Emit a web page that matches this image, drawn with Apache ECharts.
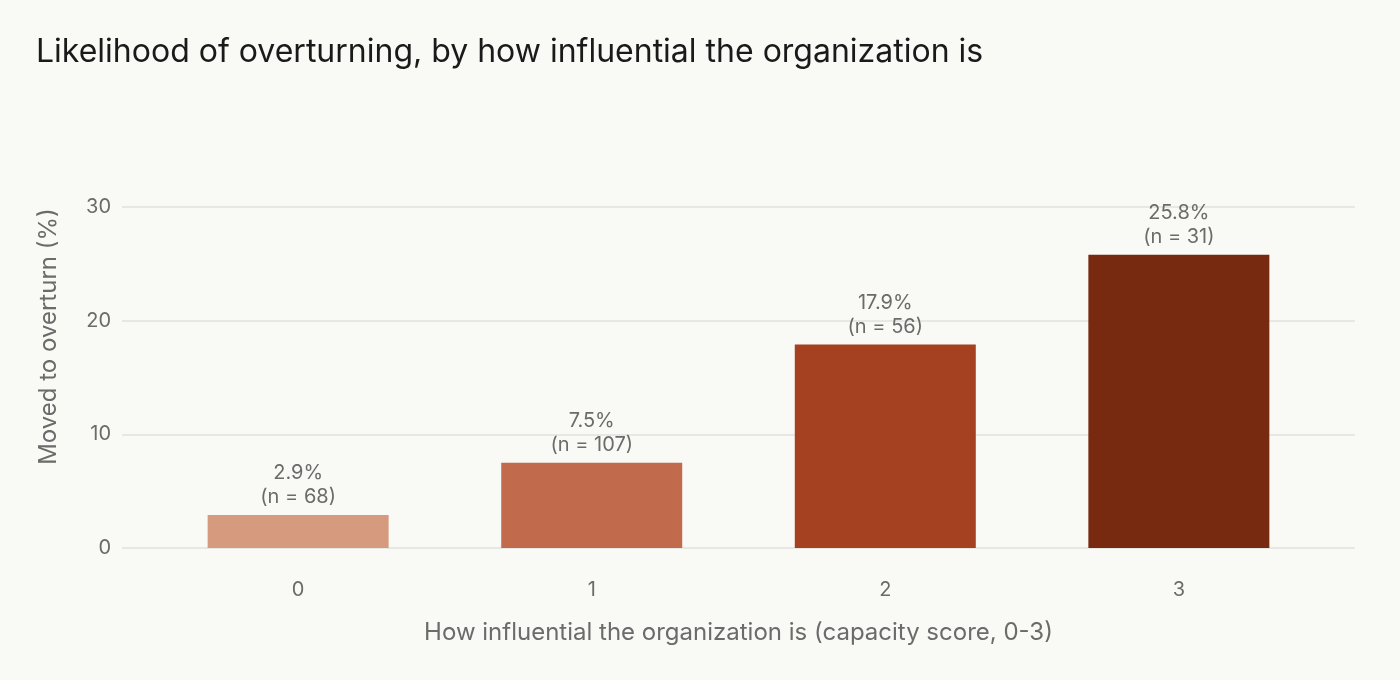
<!DOCTYPE html>
<html><head><meta charset="utf-8">
<script src="https://cdn.jsdelivr.net/npm/echarts@6/dist/echarts.min.js"></script>
<style>html,body{margin:0;padding:0;background:#f9f9f5;}#c{width:1400px;height:680px;}</style>
</head><body><div id="c"></div>
<script>
const categories = ['0', '1', '2', '3'];
const values = [2.9, 7.5, 17.9, 25.8];
const counts = [68, 107, 56, 31];
const barColors = ['#d69a7f', '#c26b4c', '#a54120', '#772a10'];
const yTicks = [0, 10, 20, 30];

const chart = echarts.init(document.getElementById('c'));
const FONT = 'Inter, "Noto Sans", sans-serif';
const catPos = categories.map((c, i) => i);
chart.setOption({
  backgroundColor: '#f9f9f5',
  textStyle: { fontFamily: FONT },
  title: {
    text: 'Likelihood of overturning, by how influential the organization is',
    left: 31, top: 31,
    textStyle: { fontFamily: FONT, fontSize: 32, fontWeight: 'normal', color: '#1a1a1a' }
  },
  grid: { left: 122, right: 45, top: 207, bottom: 132 },
  xAxis: {
    type: 'value', min: -0.6, max: 3.6,
    name: 'How influential the organization is (capacity score, 0-3)',
    nameLocation: 'middle', nameGap: 73,
    nameTextStyle: { fontSize: 24, color: '#6b6b6b', fontFamily: FONT },
    axisLine: { show: false }, axisTick: { show: false },
    splitLine: { show: false },
    axisLabel: {
      fontSize: 20, color: '#6b6b6b', margin: 32, fontFamily: FONT,
      customValues: catPos,
      formatter: v => categories[Math.round(v)]
    }
  },
  yAxis: {
    type: 'value', min: yTicks[0], max: yTicks[yTicks.length - 1], interval: 10,
    name: 'Moved to overturn (%)', nameLocation: 'middle', nameGap: 61, nameRotate: 90,
    nameTextStyle: { fontSize: 24, color: '#6b6b6b', fontFamily: FONT, padding: [0, 0, 0, 82] },
    axisLine: { show: false }, axisTick: { show: false },
    axisLabel: { fontSize: 20, color: '#6b6b6b', margin: 11, fontFamily: FONT },
    splitLine: { lineStyle: { color: '#e0e0dc', width: 1.5 } }
  },
  series: [{
    type: 'bar', barWidth: 181,
    data: values.map((v, i) => ({ value: [catPos[i], v], itemStyle: { color: barColors[i] } })),
    label: {
      show: true, position: 'top', distance: 6,
      fontSize: 20, color: '#6b6b6b', lineHeight: 24, fontFamily: FONT,
      formatter: p => p.value[1].toFixed(1) + '%\n(n = ' + counts[p.dataIndex] + ')'
    }
  }]
});
</script></body></html>
